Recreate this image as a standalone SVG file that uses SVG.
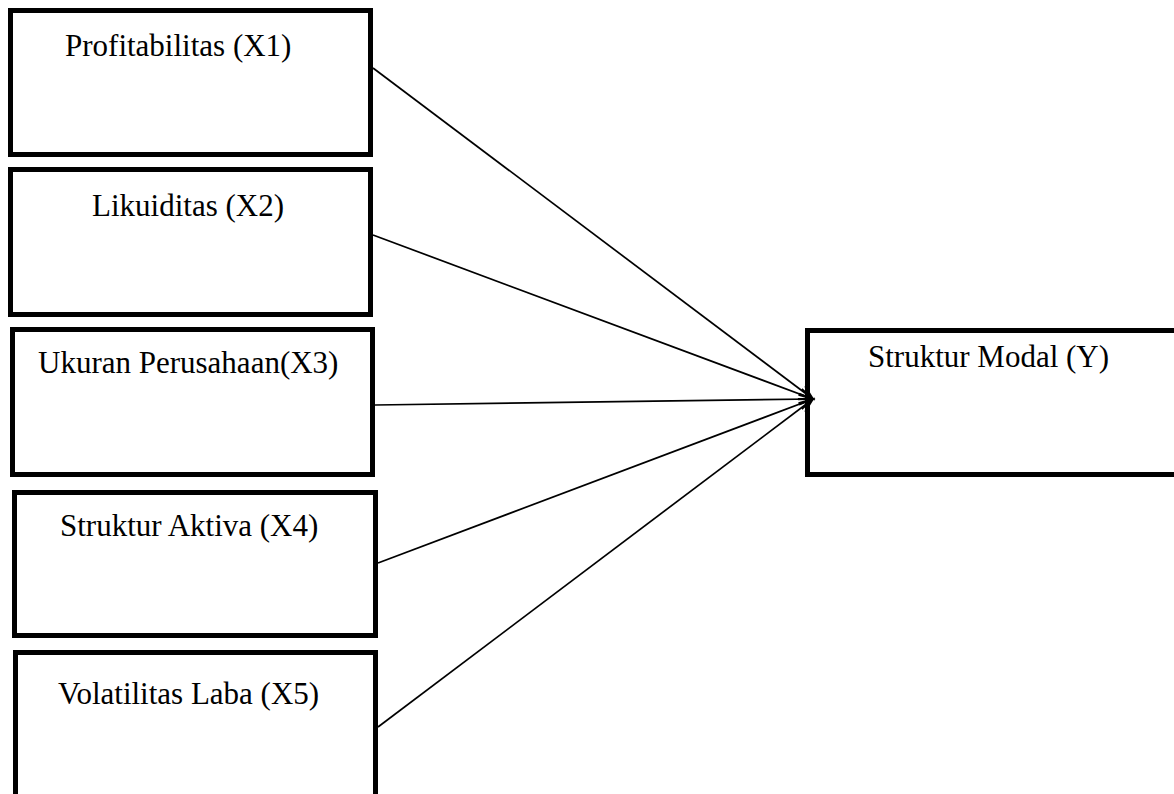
<svg xmlns="http://www.w3.org/2000/svg" width="1174" height="794" viewBox="0 0 1174 794">
<style>
.box{fill:#fff;stroke:#000;stroke-width:5}
.lbl{font-family:"Liberation Serif","Times New Roman",serif;font-size:31px;fill:#000}
.conn{stroke:#000;stroke-width:1.7;fill:none}
</style>
<defs>
<marker id="arr" markerUnits="userSpaceOnUse" markerWidth="30" markerHeight="30" refX="0" refY="0" viewBox="-15 -15 30 30" orient="auto">
<path d="M-14,-5.5 L0,0 L-14,5.5" fill="none" stroke="#000" stroke-width="1.8"/>
</marker>
</defs>
<rect width="1174" height="794" fill="#fff"/>
<g id="x1"><rect class="box" x="10.5" y="10.5" width="360" height="144"/><text class="lbl" x="65" y="56">Profitabilitas (X1)</text></g>
<g id="x2"><rect class="box" x="10.5" y="169.5" width="360" height="145"/><text class="lbl" x="92" y="216">Likuiditas (X2)</text></g>
<g id="x3"><rect class="box" x="12.5" y="329.5" width="360" height="145"/><text class="lbl" x="38" y="373">Ukuran Perusahaan(X3)</text></g>
<g id="x4"><rect class="box" x="14.5" y="492.5" width="361" height="143"/><text class="lbl" x="60" y="536">Struktur Aktiva (X4)</text></g>
<g id="x5"><rect class="box" x="15.5" y="652.5" width="360" height="160"/><text class="lbl" x="58" y="704">Volatilitas Laba (X5)</text></g>
<g id="y"><rect class="box" x="807.5" y="330.5" width="380" height="144"/><text class="lbl" x="868" y="367">Struktur Modal (Y)</text></g>
<g id="connectors">
<line class="conn" x1="373" y1="68" x2="813" y2="399" marker-end="url(#arr)"/>
<line class="conn" x1="373" y1="235" x2="813" y2="399" marker-end="url(#arr)"/>
<line class="conn" x1="375" y1="405" x2="813" y2="399" marker-end="url(#arr)"/>
<line class="conn" x1="378" y1="563" x2="813" y2="399" marker-end="url(#arr)"/>
<line class="conn" x1="378" y1="727" x2="813" y2="399" marker-end="url(#arr)"/>
</g>
</svg>
